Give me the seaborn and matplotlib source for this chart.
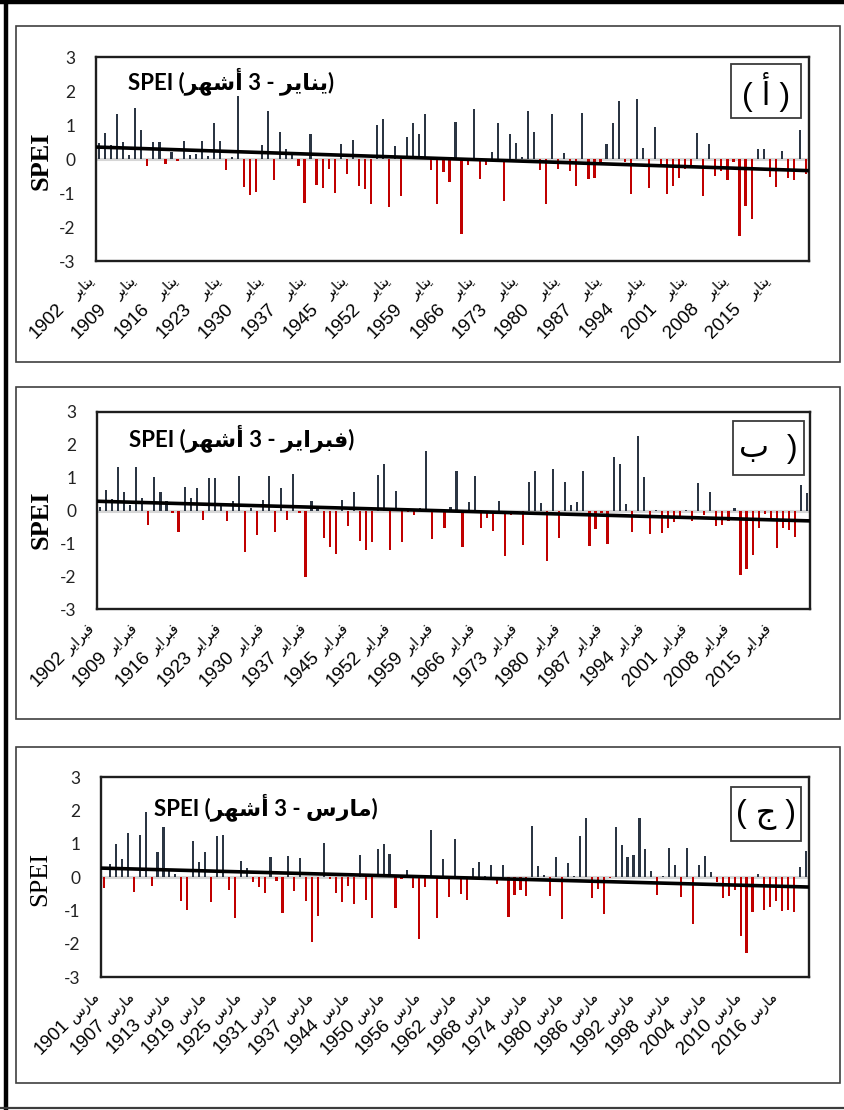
import numpy as np
import pandas as pd
import matplotlib
matplotlib.use("Agg")
import matplotlib.pyplot as plt
import matplotlib.transforms as mtransforms
from matplotlib.lines import Line2D
from matplotlib.patches import Rectangle
import seaborn as sns

# ---------------------------------------------------------------- data
# Years of record (no value for 1940 in the series)
years_jan = [y for y in range(1902, 2021) if y != 1940]
years_feb = [y for y in range(1902, 2021) if y != 1940]
years_mar = [y for y in range(1901, 2021) if y != 1940]

spei_jan = [
    0.48, 0.77, 0.41, 1.31, 0.49, 0.12, 1.49, 0.84, -0.20, 0.49,
    0.50, -0.14, 0.20, -0.05, 0.52, 0.12, 0.15, 0.53, 0.10, 1.06,
    0.52, -0.32, 0.05, 1.85, -0.82, -1.05, -0.96, 0.41, 1.40, -0.61,
    0.80, 0.28, 0.13, -0.20, -1.28, 0.75, -0.75, -0.84, -0.28, -0.99,
    0.44, -0.43, 0.56, -0.78, -0.87, -1.31, 1.00, 1.17, -1.40, 0.38,
    -1.09, 0.64, 1.06, 0.75, 1.32, -0.32, -1.32, -0.38, -0.68, 1.09,
    -2.20, -0.18, 1.46, -0.59, -0.18, 0.20, 1.06, -1.24, 0.74, 0.46,
    0.06, 1.41, 0.80, -0.32, -1.32, 1.31, -0.28, 0.17, -0.35, -0.79,
    1.36, -0.59, -0.56, -0.09, 0.43, 1.05, 1.70, -0.09, -1.03, 1.77,
    0.32, -0.85, 0.94, -0.15, -1.03, -0.79, -0.56, -0.28, -0.18, 0.76,
    -1.09, 0.43, -0.50, -0.34, -0.62, -0.08, -2.26, -1.38, -1.76, 0.28,
    0.28, -0.53, -0.82, 0.24, -0.56, -0.62, 0.84, -0.44,
]

spei_feb = [
    0.10, 0.61, 0.35, 1.31, 0.56, 0.18, 1.34, 0.37, -0.43, 1.02,
    0.56, 0.29, -0.09, -0.64, 0.72, 0.38, 0.68, -0.30, 0.98, 0.99,
    0.14, -0.33, 0.30, 1.06, -1.27, 0.07, -0.74, 0.33, 1.04, -0.67,
    0.68, -0.30, 1.10, -0.08, -2.03, 0.29, 0.08, -0.85, -1.11, -1.34,
    0.32, -0.46, 0.55, -0.94, -1.21, -0.97, 1.07, 1.41, -1.21, 0.58,
    -0.97, -0.05, -0.15, 0.09, 1.80, -0.88, 0.05, -0.54, 0.10, 1.21,
    -1.12, 0.26, 1.04, -0.52, -0.24, -0.61, 0.28, -1.40, -0.15, -0.05,
    -1.06, 0.87, 1.20, 0.22, -1.55, 1.26, -0.85, 0.88, 0.16, 0.26,
    1.20, -1.09, -0.55, -0.08, -1.03, 1.62, 1.42, 0.19, -0.64, 2.27,
    1.03, -0.73, 0.03, -0.70, -0.52, -0.36, -0.18, 0.03, -0.33, 0.83,
    -0.15, 0.57, -0.46, -0.43, -0.33, 0.08, -1.97, -1.79, -1.37, -0.52,
    -0.12, -0.24, -1.15, -0.52, -0.58, -0.82, 0.77, 0.54,
]

spei_mar = [
    -0.33, 0.39, 0.98, 0.53, 1.31, -0.45, 1.26, 1.96, -0.27, 0.76,
    1.49, 0.19, 0.10, -0.72, -0.99, 1.07, 0.45, 0.76, -0.75, 1.22,
    1.26, -0.39, -1.23, 0.49, 0.26, -0.15, -0.30, -0.48, 0.59, -0.12,
    -1.08, 0.62, -0.42, 0.58, -0.72, -1.95, -1.17, 1.03, -0.05, -0.48,
    -0.75, -0.27, -0.81, 0.67, -0.69, -1.23, 0.85, 0.98, 0.70, -0.93,
    -0.06, 0.22, -0.33, -1.86, -0.30, 1.41, -1.23, 0.55, -0.60, 1.13,
    -0.51, -0.69, 0.27, 0.45, 0.04, 0.37, -0.21, 0.35, -1.20, -0.54,
    -0.39, -0.57, 1.54, 0.34, 0.05, -0.57, 0.59, -1.26, 0.43, 0.03,
    1.23, 1.77, -0.63, -0.36, -1.11, -0.04, 1.50, 0.96, 0.59, 0.67,
    1.77, 0.83, 0.17, -0.54, 0.03, 0.88, 0.35, -0.60, 0.88, -1.41,
    0.35, 0.63, 0.15, -0.15, -0.63, -0.57, -0.39, -1.77, -2.28, -1.05,
    0.10, -0.99, -0.90, -0.72, -1.02, -0.99, -1.05, 0.30, 0.79,
]

month_names = ["يناير", "فبراير", "مارس"]
panel_tags = ["أ", "ب", "ج"]
y_ticks = [-3, -2, -1, 0, 1, 2, 3]

# ---------------------------------------------------------------- style
sns.set_theme(style="white")
plt.rcParams["font.family"] = ["Liberation Sans", "DejaVu Sans"]
plt.rcParams["axes.unicode_minus"] = False

WET = "#2b3543"
DRY = "#c00000"
ZERO = "#d6d6d6"

# Arabic joining: matplotlib lays glyphs out left to right without shaping,
# so words are converted to presentation forms and put in visual order.
FORMS = {  # isolated, final, initial, medial
    "ا": ("\uFE8D", "\uFE8E", None, None),
    "أ": ("\uFE83", "\uFE84", None, None),
    "ر": ("\uFEAD", "\uFEAE", None, None),
    "ب": ("\uFE8F", "\uFE90", "\uFE91", "\uFE92"),
    "ج": ("\uFE9D", "\uFE9E", "\uFE9F", "\uFEA0"),
    "س": ("\uFEB1", "\uFEB2", "\uFEB3", "\uFEB4"),
    "ش": ("\uFEB5", "\uFEB6", "\uFEB7", "\uFEB8"),
    "ف": ("\uFED1", "\uFED2", "\uFED3", "\uFED4"),
    "م": ("\uFEE1", "\uFEE2", "\uFEE3", "\uFEE4"),
    "ن": ("\uFEE5", "\uFEE6", "\uFEE7", "\uFEE8"),
    "ه": ("\uFEE9", "\uFEEA", "\uFEEB", "\uFEEC"),
    "ي": ("\uFEF1", "\uFEF2", "\uFEF3", "\uFEF4"),
}


def joins_left(ch):
    return ch in FORMS and FORMS[ch][2] is not None


def arabic(word):
    glyphs = []
    for i, ch in enumerate(word):
        if ch not in FORMS:
            glyphs.append(ch)
            continue
        prev = word[i - 1] if i > 0 else ""
        nxt = word[i + 1] if i + 1 < len(word) else ""
        to_prev = joins_left(prev)
        to_next = joins_left(ch) and nxt in FORMS
        iso, fin, ini, med = FORMS[ch]
        if to_prev and to_next:
            glyphs.append(med)
        elif to_prev:
            glyphs.append(fin)
        elif to_next:
            glyphs.append(ini)
        else:
            glyphs.append(iso)
    return "".join(reversed(glyphs))


# ---------------------------------------------------------------- layout (pixels)
W, H = 844, 1110
fig = plt.figure(figsize=(W / 100, H / 100), dpi=100)


def fx(px):
    return px / W


def fy(py):
    return 1 - py / H


panels = [
    dict(years=years_jan, vals=spei_jan, month=month_names[0], tag=panel_tags[0],
         step=7, box=(16, 26, 840, 362), plot=(96, 57, 809, 261),
         title=(128, 81), ylab=(41, 161), bold_ylab=True,
         tagbox=(731, 64, 801, 118), tagtext="( " + arabic(panel_tags[0]) + " )"),
    dict(years=years_feb, vals=spei_feb, month=month_names[1], tag=panel_tags[1],
         step=7, box=(16, 387, 840, 719), plot=(97, 412, 810, 609),
         title=(129, 438), ylab=(41, 520), bold_ylab=True,
         tagbox=(733, 421, 804, 475), tagtext=arabic(panel_tags[1]) + "  )"),
    dict(years=years_mar, vals=spei_mar, month=month_names[2], tag=panel_tags[2],
         step=6, box=(16, 747, 840, 1083), plot=(101, 777, 809, 977),
         title=(154, 807), ylab=(40, 879), bold_ylab=False,
         tagbox=(731, 787, 801, 841), tagtext="( " + arabic(panel_tags[2]) + " )"),
]

# outer frame
fig.add_artist(Line2D([0, 1], [fy(2), fy(2)], transform=fig.transFigure,
                      color="black", lw=3.2))
fig.add_artist(Line2D([fx(6), fx(6)], [0, 1], transform=fig.transFigure,
                      color="black", lw=3.2))
fig.add_artist(Line2D([0, 1], [fy(1108), fy(1108)], transform=fig.transFigure,
                      color="#3c3c3c", lw=1.6))

for p in panels:
    # panel frame
    bx0, by0, bx1, by1 = p["box"]
    fig.add_artist(Rectangle((fx(bx0), fy(by1)), fx(bx1) - fx(bx0), (by1 - by0) / H,
                             transform=fig.transFigure, fill=False,
                             edgecolor="#404040", lw=1.2))

    l, t, r, b = p["plot"]
    ax = fig.add_axes([fx(l), fy(b), fx(r) - fx(l), (b - t) / H])
    n = len(p["vals"])
    df = pd.DataFrame({
        "pos": np.arange(n),
        "spei": p["vals"],
        "sign": np.where(np.asarray(p["vals"]) >= 0, "wet", "dry"),
    })
    ax.axhline(0, color=ZERO, lw=2.2, zorder=0.5)
    sns.barplot(data=df, x="pos", y="spei", hue="sign",
                palette={"wet": WET, "dry": DRY}, native_scale=True,
                dodge=False, width=0.36, saturation=1, errorbar=None,
                linewidth=0, legend=False, ax=ax)
    ax.set_xlim(-0.5, n - 0.5)
    sns.regplot(data=df, x="pos", y="spei", scatter=False, ci=None,
                truncate=False, color="black", line_kws=dict(lw=2.6, zorder=5),
                ax=ax)
    ax.set_xlim(-0.5, n - 0.5)
    ax.set_ylim(-3, 3)
    ax.set_xlabel("")
    ax.set_ylabel("")
    ax.set_xticks([])
    ax.set_yticks(y_ticks)
    ax.set_yticklabels([str(v) for v in y_ticks], fontsize=12.5,
                       family=["Lato", "DejaVu Sans"], color="#222222")
    ax.tick_params(axis="y", length=0, pad=15)
    for s in ax.spines.values():
        s.set_visible(True)
        s.set_color("#1e1e1e")
        s.set_linewidth(1.7)

    # category labels: month above, year below, both slanted
    trans = mtransforms.blended_transform_factory(ax.transData, ax.transAxes)
    for k in range(0, n, p["step"]):
        ax.annotate(arabic(p["month"]), xy=(k, 0), xycoords=trans,
                    xytext=(-9, -9), textcoords="offset points",
                    rotation=45, rotation_mode="anchor", ha="right", va="top",
                    fontsize=10.5, family=["DejaVu Sans"], color="black",
                    annotation_clip=False)
        ax.annotate(str(p["years"][k]), xy=(k, 0), xycoords=trans,
                    xytext=(-31, -28), textcoords="offset points",
                    rotation=45, rotation_mode="anchor", ha="right", va="top",
                    fontsize=13.5, family=["Liberation Sans"], color="black",
                    annotation_clip=False)

    # title inside the plot
    title = "SPEI (" + arabic("أشهر") + " 3 - " + arabic(p["month"]) + ")"
    fig.text(fx(p["title"][0]), fy(p["title"][1]), title, ha="left", va="center",
             fontsize=16, fontweight="bold", family=["Lato", "DejaVu Sans"],
             color="black")

    # y axis name
    fig.text(fx(p["ylab"][0]), fy(p["ylab"][1]), "SPEI", rotation=90,
             ha="center", va="center", fontsize=19,
             fontweight="bold" if p["bold_ylab"] else "normal",
             family=["Liberation Serif"], color="black")

    # panel letter in its own box
    tx0, ty0, tx1, ty1 = p["tagbox"]
    fig.add_artist(Rectangle((fx(tx0), fy(ty1)), fx(tx1) - fx(tx0), (ty1 - ty0) / H,
                             transform=fig.transFigure, facecolor="white",
                             edgecolor="#3a3a3a", lw=1.3, zorder=6))
    fig.text(fx((tx0 + tx1) / 2), fy((ty0 + ty1) / 2 + 1), p["tagtext"],
             ha="center", va="center", fontsize=23,
             family=["Liberation Sans", "DejaVu Sans"], color="black", zorder=7)

fig.savefig("out.png", dpi=100, facecolor="white")
